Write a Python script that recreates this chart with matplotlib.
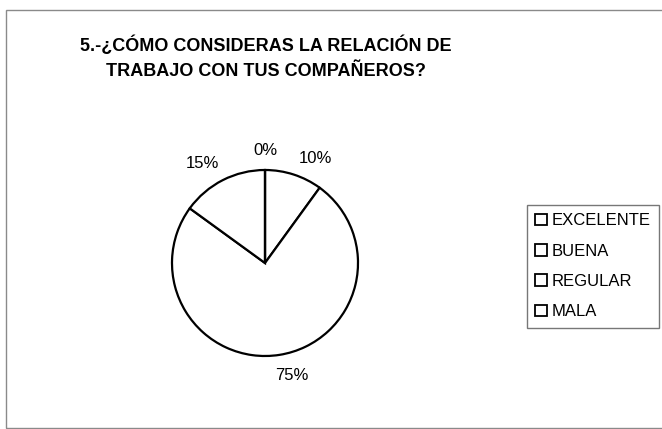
import matplotlib.pyplot as plt
from matplotlib.patches import Rectangle

plt.rcParams['font.family'] = ['Liberation Sans', 'DejaVu Sans']

categorias = ['EXCELENTE', 'BUENA', 'REGULAR', 'MALA']
porcentajes = [10, 75, 15, 0]
etiquetas = ['%d%%' % p for p in porcentajes]
# corrimiento de cada etiqueta (en radios) respecto a la posicion por defecto
ajuste_x = [0.16, 0.10, -0.12, 0.0]
ajuste_y = [-0.04, 0.0, -0.02, -0.01]

W, H = 662, 429
fig = plt.figure(figsize=(W / 100, H / 100), dpi=100)

# marco del grafico
fig.patches.append(Rectangle((6 / W, 1 / H), 1.0, (419 - 1) / H, transform=fig.transFigure,
                             fill=False, edgecolor='#8a8a8a', lw=1.0))

fig.text(266 / W, 1 - 45 / H, '5.-¿CÓMO CONSIDERAS LA RELACIÓN DE',
         ha='center', va='center', fontsize=13, fontweight='bold')
fig.text(266 / W, 1 - 72 / H, 'TRABAJO CON TUS COMPAÑEROS?',
         ha='center', va='center', fontsize=13, fontweight='bold')

# pastel: centro (265, 263) px, radio 93 px
cx, cy, r = 265, 263, 93
half = 1.25 * r
ax = fig.add_axes([(cx - half) / W, (H - cy - half) / H, 2 * half / W, 2 * half / H])
wedges, textos = ax.pie(porcentajes, labels=etiquetas, startangle=90, counterclock=False,
                        colors=['white'] * 4, labeldistance=1.22,
                        wedgeprops=dict(edgecolor='black', linewidth=1.6),
                        textprops=dict(fontsize=12))
for t, dx, dy in zip(textos, ajuste_x, ajuste_y):
    x, y = t.get_position()
    t.set_position((x + dx, y + dy))
    t.set_ha('center')
    t.set_va('center')
ax.set_aspect('equal')

leg = fig.legend(wedges, categorias, loc='upper left',
                 bbox_to_anchor=(527 / W, 1 - 205 / H), fontsize=12,
                 handlelength=0.7, handleheight=0.7, handletextpad=0.25,
                 labelspacing=0.92, borderpad=0.5, fancybox=False, borderaxespad=0)
leg.get_frame().set_edgecolor('#555555')
leg.get_frame().set_linewidth(1.0)
for h in leg.legend_handles:
    h.set_linewidth(1.3)

fig.savefig('out.png', dpi=100)
